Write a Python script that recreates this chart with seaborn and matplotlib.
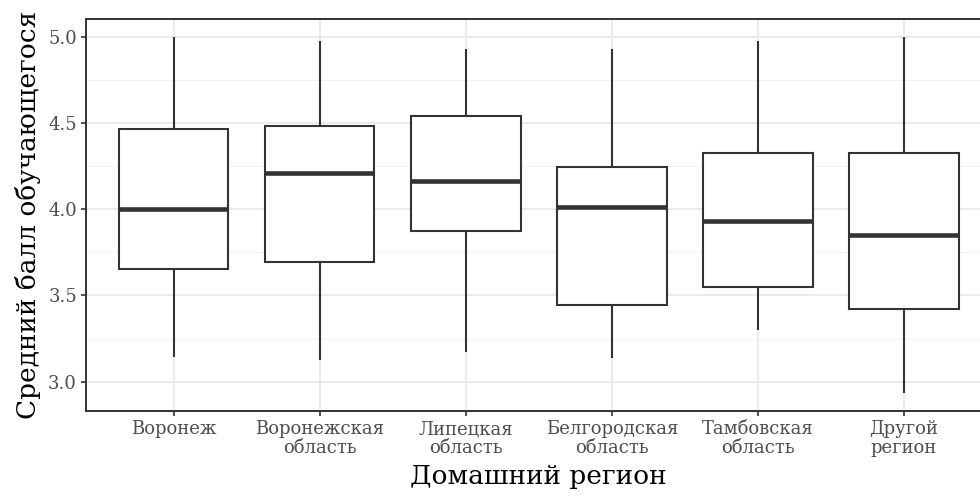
import numpy as np
import pandas as pd
import matplotlib
matplotlib.use("Agg")
import matplotlib.pyplot as plt
import seaborn as sns

# Five-number summaries of the mean grade per home region
regions = ["Воронеж", "Воронежская\nобласть", "Липецкая\nобласть",
           "Белгородская\nобласть", "Тамбовская\nобласть", "Другой\nрегион"]
whisker_low = [3.145, 3.126, 3.174, 3.136, 3.300, 2.936]
q1 = [3.653, 3.692, 3.875, 3.445, 3.551, 3.420]
median = [4.000, 4.210, 4.163, 4.014, 3.933, 3.850]
q3 = [4.465, 4.482, 4.542, 4.246, 4.328, 4.328]
whisker_high = [5.000, 4.977, 4.927, 4.927, 4.977, 4.997]

y_ticks = [3.0, 3.5, 4.0, 4.5, 5.0]

rows = []
for i, r in enumerate(regions):
    for v in (whisker_low[i], q1[i], median[i], q3[i], whisker_high[i]):
        rows.append({"region": r, "score": v})
df = pd.DataFrame(rows)

sns.set_theme(style="white")
plt.rcParams["font.family"] = ["DejaVu Serif", "DejaVu Sans"]

fig = plt.figure(figsize=(9.8, 4.99), dpi=100)
ax = fig.add_axes([86 / 980, 88 / 499, 905.6 / 980, 392 / 499])

line_col = "#333333"
sns.boxplot(data=df, x="region", y="score", order=regions, ax=ax,
            color="white", linecolor=line_col, linewidth=1.5, width=0.75,
            whis=(0, 100), showcaps=False, fliersize=0,
            medianprops=dict(linewidth=3.3, color=line_col),
            zorder=3)

# grid: major and minor lines in light grey
ax.set_ylim(2.830, 5.1026)
ax.set_xlim(-0.6, len(regions) - 0.4)
ax.set_yticks(y_ticks)
ax.set_yticklabels([f"{t:.1f}" for t in y_ticks])
for t in np.arange(3.25, 5.0, 0.5):
    ax.axhline(t, color="#F2F2F2", lw=0.8, zorder=0)
for t in y_ticks:
    ax.axhline(t, color="#EBEBEB", lw=1.4, zorder=0)
for i in range(len(regions)):
    ax.axvline(i, color="#EBEBEB", lw=1.4, zorder=0)

for s in ax.spines.values():
    s.set_color(line_col)
    s.set_linewidth(1.4)

ax.tick_params(axis="both", which="major", direction="out", length=3.5,
               width=1.2, color=line_col, labelcolor="#4D4D4D",
               labelsize=13, pad=3, bottom=True, left=True)
for lab in ax.get_xticklabels():
    lab.set_linespacing(1.05)

ax.set_xlabel("Домашний регион", fontsize=19, color="black", labelpad=5)
ax.set_ylabel("Средний балл обучающегося", fontsize=19, color="black", labelpad=5)

fig.savefig("out.png", dpi=100)
